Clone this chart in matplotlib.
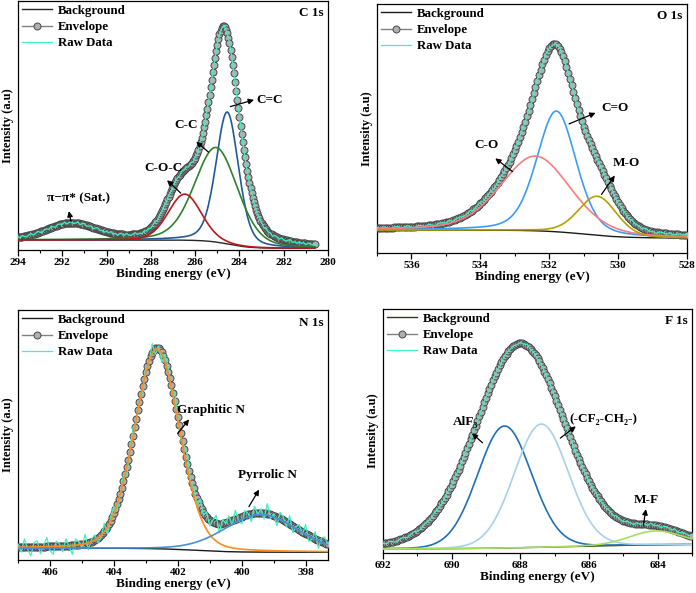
import numpy as np
import matplotlib.pyplot as plt
from matplotlib.ticker import MultipleLocator

plt.rcParams['font.family'] = ['Liberation Serif', 'DejaVu Serif']
plt.rcParams['font.weight'] = 'bold'

# ---- data (intensity as fraction of the panel height) ----
# background: (level at high BE, level at low BE, step centre, step width)
# C 1s
c1s_span = (294.0, 280.6)
c1s_bg = (0.040, 0.007, 284.5, 1.0)
c1s_comp_centre = [284.55, 285.05, 286.47]   # C=C, C-C, C-O-C
c1s_comp_fwhm = [1.2, 2.3, 1.75]
c1s_comp_height = [0.53, 0.38, 0.185]
c1s_comp_eta = [0.3, 0.25, 0.15]
c1s_env_centre = [284.7, 286.6, 291.6]       # fitted envelope incl. pi-pi* satellite
c1s_env_fwhm = [1.65, 1.6, 2.6]
c1s_env_height = [0.865, 0.2, 0.064]
c1s_env_eta = [0.45, 0.1, 0.2]
c1s_labels = ['C=C', 'C-C', 'C-O-C', 'π−π* (Sat.)']

# O 1s
o1s_span = (537.0, 528.0)
o1s_bg = (0.092, 0.060, 531.0, 1.2)
o1s_comp_centre = [531.79, 532.4, 530.6]      # C=O, C-O, M-O
o1s_comp_fwhm = [1.35, 2.4, 1.3]
o1s_comp_height = [0.485, 0.30, 0.157]
o1s_comp_eta = [0.3, 0.3, 0.2]
o1s_labels = ['C=O', 'C-O', 'M-O']

# N 1s
n1s_span = (407.0, 397.3)
n1s_bg = (0.047, 0.031, 401.5, 1.2)
n1s_comp_centre = [402.65, 399.4]             # graphitic, pyrrolic
n1s_comp_fwhm = [1.65, 2.7]
n1s_comp_height = [0.80, 0.15]
n1s_comp_eta = [0.15, 0.1]
n1s_labels = ['Graphitic N', 'Pyrrolic N']

# F 1s
f1s_span = (692.0, 683.0)
f1s_bg = (0.016, 0.037, 686.5, 3.0)
f1s_comp_centre = [688.46, 687.39, 684.05]    # AlF3, CF2-CH2, M-F
f1s_comp_fwhm = [1.85, 1.85, 1.8]
f1s_comp_height = [0.50, 0.505, 0.057]
f1s_comp_eta = [0.05, 0.05, 0.1]
f1s_env_centre = [688.0, 684.05]
f1s_env_fwhm = [3.05, 1.8]
f1s_env_height = [0.838, 0.057]
f1s_env_eta = [0.15, 0.1]
f1s_labels = ['AlF₃', '(-CF₂-CH₂-)', 'M-F']

# noise of the raw trace, read as deviations from the envelope (arbitrary scale)
raw_noise = [
    0.3, -0.5, 0.8, -0.2, -0.9, 0.4, 0.6, -0.7, 0.1, 0.9, -0.4, -0.8, 0.5, 0.2, -0.6, 0.7, -0.1, -0.9, 0.6, 0.3,
    -0.3, 0.9, -0.7, 0.2, 0.5, -0.5, -0.2, 0.8, -0.8, 0.4, 0.7, -0.6, -0.1, 0.6, -0.9, 0.3, 0.8, -0.4, 0.1, -0.7,
    0.5, -0.3, 0.9, -0.6, 0.2, -1.0, 0.6, 0.4, -0.5, 0.8, -0.2, -0.7, 0.3, 0.9, -0.4, 0.1, -0.8, 0.7, -0.3, 0.5,
    -0.6, 0.2, 0.8, -0.9, 0.4, -0.1, 0.6, -0.5, 0.9, -0.3, -0.7, 0.5, 0.1, -0.8, 0.7, -0.2, 0.4, -0.6, 1.0, -0.4,
    0.2, -0.9, 0.6, 0.3, -0.5, 0.8, -0.7, 0.1, 0.5, -0.3, 0.9, -0.6, -0.2, 0.7, -0.8, 0.4, 0.6, -0.1, -0.9, 0.3,
    0.8, -0.5, 0.2, -0.7, 0.6, -0.3, 0.9, -0.4, -0.6, 0.5, 0.1, -0.8, 0.7, -0.2, 0.4, -0.9, 0.6, 0.3, -0.5, 0.8,
    -0.1, -0.7, 0.5, 0.9, -0.4, 0.2, -0.6, 0.7, -0.3, 0.4, -0.8, 0.6, 0.1, -0.5, 0.3, -0.2, 0.5, -0.4, 0.2, -0.1,
]

# ---- styles / layout ----
ENV_STEP = 0.05
RAW_STEP = 0.1
RAW_COLOR = '#3ff0c8'

panels = [
    dict(rect=[18/696, 343/593, 310/696, 249/593], title='C 1s', xlim=(294, 280), span=c1s_span, bg=c1s_bg,
         comps=(c1s_comp_centre, c1s_comp_fwhm, c1s_comp_height, c1s_comp_eta),
         env=(c1s_env_centre, c1s_env_fwhm, c1s_env_height, c1s_env_eta),
         colors=['#1f5a99', '#2e822e', '#c0161c'], bg_color='#262626', noise=0.006, labels=c1s_labels,
         arrows=[((284.53, 0.573), (283.22, 0.606), (282.62, 0.602)),
                 ((285.30, 0.386), (286.05, 0.442), (286.40, 0.500)),
                 ((286.56, 0.221), (287.36, 0.288), (287.44, 0.328)),
                 ((291.58, 0.104), (291.73, 0.167), (291.28, 0.207))]),
    dict(rect=[377/696, 340/593, 310/696, 249/593], title='O 1s', xlim=(537, 528), span=o1s_span, bg=o1s_bg,
         comps=(o1s_comp_centre, o1s_comp_fwhm, o1s_comp_height, o1s_comp_eta),
         colors=['#3c9cf5', '#f57f7f', '#b3a100'], bg_color='#1a1a1a', noise=0.006, labels=o1s_labels,
         arrows=[((531.50, 0.514), (530.58, 0.567), (530.10, 0.581)),
                 ((533.00, 0.320), (533.63, 0.387), (533.83, 0.432)),
                 ((530.53, 0.226), (530.05, 0.320), (529.76, 0.362))]),
    dict(rect=[18/696, 33/593, 310/696, 250/593], title='N 1s', xlim=(407, 397.3), span=n1s_span, bg=n1s_bg,
         comps=(n1s_comp_centre, n1s_comp_fwhm, n1s_comp_height, n1s_comp_eta),
         colors=['#ff8c1a', '#4a8fd8'], bg_color='#1a1a1a', noise=0.04, labels=n1s_labels,
         arrows=[((402.06, 0.497), (401.59, 0.571), (400.95, 0.601)),
                 ((399.82, 0.204), (399.41, 0.291), (399.20, 0.340))]),
    dict(rect=[383/696, 40/593, 309/696, 244/593], title='F 1s', xlim=(692, 683), span=f1s_span, bg=f1s_bg,
         comps=(f1s_comp_centre, f1s_comp_fwhm, f1s_comp_height, f1s_comp_eta),
         env=(f1s_env_centre, f1s_env_fwhm, f1s_env_height, f1s_env_eta),
         colors=['#1f6fb8', '#a8d0ec', '#a4e060'], bg_color='#2b3a20', noise=0.006, labels=f1s_labels,
         arrows=[((689.04, 0.444), (689.47, 0.498), (689.60, 0.538)),
                 ((686.90, 0.464), (686.32, 0.526), (685.59, 0.549)),
                 ((684.43, 0.102), (684.33, 0.191), (684.33, 0.218))]),
]


def background(x, p):
    hi, lo, c, w = p
    return lo + (hi - lo) * 0.5 * (1 + np.tanh((x - c) / w))


def peak(x, c, f, h, eta):
    g = np.exp(-4 * np.log(2) * ((x - c) / f) ** 2)
    lz = 1 / (1 + 4 * ((x - c) / f) ** 2)
    return h * ((1 - eta) * g + eta * lz)


def envelope(x, p):
    y = background(x, p['bg'])
    for c, f, h, e in zip(*p.get('env', p['comps'])):
        y = y + peak(x, c, f, h, e)
    return y


fig = plt.figure(figsize=(6.96, 5.93), dpi=100)

for p in panels:
    ax = fig.add_axes(p['rect'])
    hi, lo = p['span']
    xe = np.linspace(hi, lo, int(round((hi - lo) / ENV_STEP)) + 1)
    xr = np.linspace(hi, lo, int(round((hi - lo) / RAW_STEP)) + 1)
    bg = background(xe, p['bg'])
    raw = envelope(xr, p) + p['noise'] * np.array(raw_noise[:len(xr)])

    ax.plot(xe, bg, color=p['bg_color'], lw=1.0, label='Background', zorder=2)
    ax.plot(xe, envelope(xe, p), '-o', color='#808080', lw=1.0, ms=5,
            mfc='#b0b0b0', mec='#474747', mew=0.7, label='Envelope', zorder=3)
    ax.plot(xr, raw, color=RAW_COLOR, lw=0.9, label='Raw Data', zorder=4)
    for c, f, h, e, col in zip(*p['comps'], p['colors']):
        ax.plot(xe, bg + peak(xe, c, f, h, e), color=col, lw=1.2, zorder=5)

    for name, (tail, head, txt) in zip(p['labels'], p['arrows']):
        ax.annotate('', xy=head, xytext=tail,
                    arrowprops=dict(arrowstyle='-|>', color='black', lw=0.9, mutation_scale=8), zorder=6)
        ax.text(txt[0], txt[1], name, ha='center', va='center', fontsize=9.5, fontweight='bold', zorder=6)

    ax.text(0.985, 0.95, p['title'], transform=ax.transAxes, ha='right', va='center',
            fontsize=9.5, fontweight='bold')

    ax.set_xlim(*p['xlim'])
    ax.set_ylim(0, 1)
    ax.xaxis.set_major_locator(MultipleLocator(2))
    ax.xaxis.set_minor_locator(MultipleLocator(1))
    ax.tick_params(axis='x', which='major', direction='out', length=4, width=0.9, labelsize=8, pad=2)
    ax.tick_params(axis='x', which='minor', direction='out', length=2.5, width=0.8)
    ax.set_yticks([])
    for lab in ax.get_xticklabels():
        lab.set_fontweight('bold')
    for s in ax.spines.values():
        s.set_linewidth(0.9)
    ax.set_xlabel('Binding energy (eV)', fontsize=9.5, fontweight='bold', labelpad=0.5)
    ax.set_ylabel('Intensity (a.u)', fontsize=9, fontweight='bold', labelpad=3)
    ax.legend(loc='upper left', frameon=False, handlelength=2.3, handletextpad=0.5,
              borderaxespad=0.1, borderpad=0.2, labelspacing=0.32, prop=dict(weight='bold', size=9.3))

plt.savefig('out.png', dpi=100)
